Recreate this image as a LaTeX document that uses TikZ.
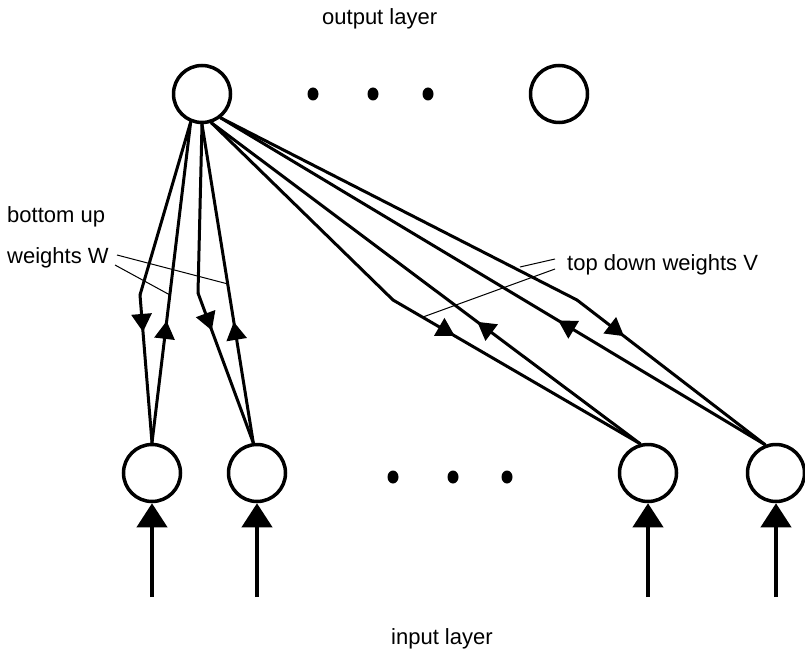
\documentclass[tikz,border=0pt]{standalone}
\usepackage{fontspec}
\setmainfont{Liberation Sans}
\usetikzlibrary{arrows.meta,decorations.markings,shapes.geometric}

\begin{document}
\begin{tikzpicture}[x=1pt,y=-1pt,
    unit/.style={draw,circle,line width=3.5pt,minimum size=57pt,inner sep=0pt},
    dot/.style={fill,ellipse,minimum width=11pt,minimum height=13pt,inner sep=0pt},
    lbl/.style={font=\fontsize{22}{26}\selectfont,inner sep=0pt,anchor=base west},
    conn/.style={draw,line width=3pt,line cap=round,line join=round},
    td/.style={conn,postaction={decorate},decoration={markings,
        mark=at position 0.25 with {\arrow{Triangle[length=18pt,width=20pt]}}}},
    bu/.style={conn,postaction={decorate},decoration={markings,
        mark=at position 0.38 with {\arrow{Triangle[length=18pt,width=20pt]}}}},
    feed/.style={draw,line width=4pt,-{Triangle[length=24pt,width=30pt]}},
    pointer/.style={draw,line width=1pt}]

  \useasboundingbox (0,0) rectangle (805,652);

  % output layer
  \node[unit] (o_1) at (202,94) {};
  \node[unit] (o_n) at (559,94) {};
  \foreach \x [count=\i] in {313,373,428}
    \node[dot] (od_\i) at (\x,94) {};
  \node[lbl] (out) at (322,25) {output layer};

  % input layer
  \node[unit] (i_1) at (152,473) {};
  \node[unit] (i_2) at (257,473) {};
  \node[unit] (i_3) at (648,473) {};
  \node[unit] (i_4) at (776,473) {};
  \foreach \x [count=\i] in {393,453,507}
    \node[dot] (id_\i) at (\x,477) {};
  \node[lbl] (in) at (391,644) {input layer};

  % external inputs
  \foreach \i/\x in {1/152,2/257,3/648,4/776} {
    \coordinate (b_\i) at (\x,597);
    \draw[feed] (b_\i) -- (i_\i);
  }

  % kinks of the top down paths
  \coordinate (k_1) at (140,295);
  \coordinate (k_2) at (198,293);
  \coordinate (k_3) at (393,300);
  \coordinate (k_4) at (577,300);

  % top down weights
  \draw[conn] (o_1.-112) -- (k_1);
  \draw[td] (k_1) -- (i_1.90);
  \draw[conn] (o_1.-90) -- (k_2);
  \draw[td] (k_2) -- (i_2.97);
  \draw[conn] (o_1.-72) -- (k_3);
  \draw[td] (k_3) -- (i_3.105);
  \draw[conn] (o_1.-52) -- (k_4);
  \draw[td] (k_4) -- (i_4.111);

  % bottom up weights
  \draw[bu] (i_1.90) -- (o_1.-112);
  \draw[bu] (i_2.97) -- (o_1.-90);
  \draw[bu] (i_3.105) -- (o_1.-72);
  \draw[bu] (i_4.111) -- (o_1.-52);

  % labels
  \node[lbl] (bu_lbl) at (7,223) {bottom up};
  \node[lbl] (w_lbl) at (7,263) {weights W};
  \node[lbl] (v_lbl) at (567,270) {top down weights V};

  \coordinate (pw_1) at (228,284);
  \coordinate (pw_2) at (170,295);
  \coordinate (pv_1) at (520,267);
  \coordinate (pv_2) at (423,317);
  \draw[pointer] (117,255) -- (pw_1);
  \draw[pointer] (115,265) -- (pw_2);
  \draw[pointer] (555,259) -- (pv_1);
  \draw[pointer] (555,269) -- (pv_2);

\end{tikzpicture}
\end{document}
